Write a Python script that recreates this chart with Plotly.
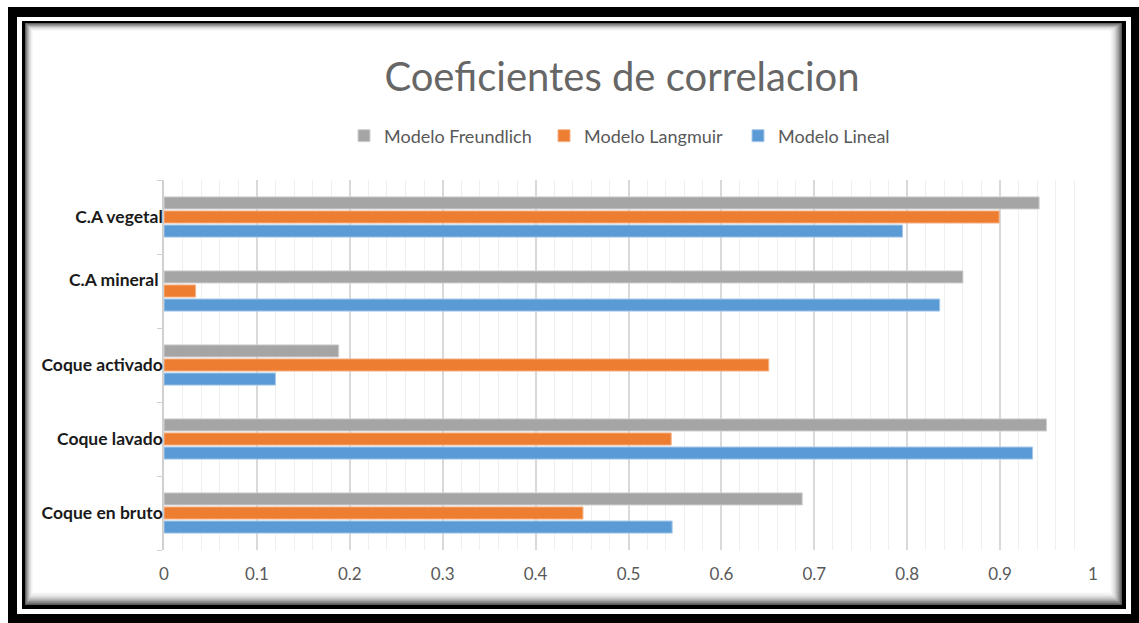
import plotly.graph_objects as go

# Data
categories = ["Coque en bruto", "Coque lavado", "Coque activado", "C.A mineral", "C.A vegetal"]
category_labels = ["Coque en bruto", "Coque lavado", "Coque activado", "C.A mineral <br> ", "C.A vegetal"]
freundlich = [0.687, 0.950, 0.188, 0.860, 0.942]
langmuir = [0.451, 0.546, 0.651, 0.034, 0.899]
lineal = [0.547, 0.935, 0.120, 0.835, 0.795]
x_ticks = [0, 0.1, 0.2, 0.3, 0.4, 0.5, 0.6, 0.7, 0.8, 0.9, 1]

W, H = 1139, 623
L, R, T, B = 164, 1093, 180, 550


def px(x):
    return (x - L) / (R - L)


def py(y):
    return (B - y) / (B - T)


def rect(x0, y0, x1, y1, color):
    return dict(type="rect", xref="paper", yref="paper", layer="below",
                x0=px(x0), x1=px(x1), y0=py(y1), y1=py(y0),
                fillcolor=color, line=dict(width=0))


fig = go.Figure()

# Series order: first trace sits lowest in each group
fig.add_trace(go.Bar(y=categories, x=lineal, orientation="h", name="Modelo Lineal",
                     marker=dict(color="#5B9BD5", line=dict(color="#a9c9ea", width=1)),
                     legend="legend3", showlegend=True))
fig.add_trace(go.Bar(y=categories, x=langmuir, orientation="h", name="Modelo Langmuir",
                     marker=dict(color="#ED7D31", line=dict(color="#f5b48c", width=1)),
                     legend="legend2", showlegend=True))
fig.add_trace(go.Bar(y=categories, x=freundlich, orientation="h", name="Modelo Freundlich",
                     marker=dict(color="#A5A5A5", line=dict(color="#cfcfcf", width=1)),
                     legend="legend", showlegend=True))

# Frame: thick black border, thin white gap, thin black line, inner shadow
shapes = [
    rect(8, 7, 1139, 623, "#000000"),
    rect(17, 17, 1131, 614, "#ffffff"),
    rect(22, 21, 1126, 609, "#000000"),
]
shadow = ["#5a5a5a", "#777777", "#919191", "#a8a8a8", "#bdbdbd", "#cfcfcf",
          "#dedede", "#eaeaea", "#f3f3f3", "#fafafa", "#ffffff"]
for i, c in enumerate(shadow):
    shapes.append(rect(25 + i * 0.8, 23 + i * 0.8, 1122 - i * 1.2, 605 - i * 1.3, c))

legend_common = dict(orientation="h", xanchor="left", yanchor="middle",
                     bgcolor="rgba(0,0,0,0)", itemwidth=30,
                     font=dict(family="Lato", size=18, color="#595959"))

fig.update_layout(
    width=W, height=H,
    margin=dict(l=L, r=W - R, t=T, b=H - B, pad=0),
    paper_bgcolor="#ffffff",
    plot_bgcolor="rgba(0,0,0,0)",
    showlegend=True,
    barmode="group",
    bargap=0.43,
    bargroupgap=0.14,
    shapes=shapes,
    title=dict(text="Coeficientes de correlacion", xref="paper", x=px(622), xanchor="center",
               yref="container", y=1 - 77 / H, yanchor="middle",
               font=dict(family="Lato", size=40, color="#666666")),
    legend=dict(x=px(344), y=py(136), **legend_common),
    legend2=dict(x=px(544), y=py(136), **legend_common),
    legend3=dict(x=px(738), y=py(136), **legend_common),
    xaxis=dict(range=[0, 1], tickvals=x_ticks, showgrid=True, gridcolor="#d9d9d9", gridwidth=1.5,
               zeroline=False, showline=False, ticks="",
               minor=dict(dtick=0.02, showgrid=True, gridcolor="#efefef", gridwidth=1),
               tickfont=dict(family="Lato", size=17, color="#595959"),
               ticklabelstandoff=12),
    yaxis=dict(showline=True, linecolor="#d0d0d0", linewidth=1.5, ticks="outside",
               tickson="boundaries", ticklen=5, tickcolor="#d0d0d0", showgrid=False,
               tickmode="array", tickvals=categories, ticktext=category_labels,
               tickfont=dict(family="Lato", size=17.5, color="#1a1a1a", weight="bold"),
               ticklabelstandoff=-4, categoryorder="array", categoryarray=categories),
)

fig.write_html("out.html")
